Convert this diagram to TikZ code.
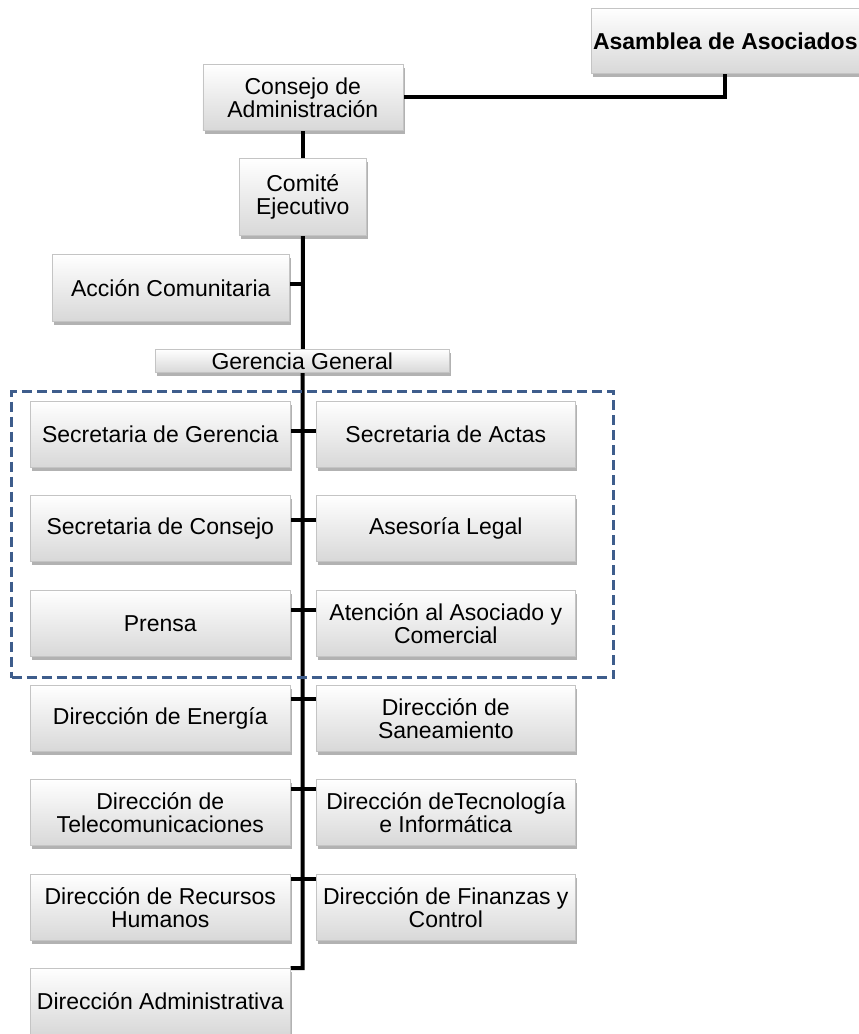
\documentclass[tikz,border=0pt]{standalone}
\usepackage{fontspec}
\setmainfont{Liberation Sans}
\usetikzlibrary{shadows,calc}
\pgfdeclarelayer{background}
\pgfsetlayers{background,main}
\definecolor{dashblue}{HTML}{3E5D8C}
\definecolor{boxedge}{HTML}{C4C4C4}
\definecolor{boxbot}{HTML}{D8D8D8}
\tikzset{
  orgbox/.style={draw=boxedge, line width=0.6pt, top color=white, bottom color=boxbot,
    drop shadow={shadow xshift=2pt, shadow yshift=-4pt, opacity=0.3, fill=black},
    anchor=north west, inner sep=0pt, align=center,
    font=\fontsize{23}{23}\selectfont},
  sz/.style 2 args={minimum width=#1pt, minimum height=#2pt},
  conn/.style={line width=4pt, black},
  grpbox/.style={draw=dashblue, line width=3pt, dash pattern=on 10pt off 5pt,
    anchor=north west, inner sep=0pt}
}
\begin{document}
\begin{tikzpicture}[x=1pt,y=-1pt]
\useasboundingbox (0,0) rectangle (859,1034);
% top boxes
\node[orgbox, sz={268}{65}] (asam) at (591,8) {\bfseries Asamblea de Asociados};
\node[orgbox, sz={200}{66}] (cons) at (202.5,64) {Consejo de\\Administración};
\node[orgbox, sz={127}{77}] (comite) at (239,158) {Comité\\Ejecutivo};
\node[orgbox, sz={237}{67}] (accion) at (52,254) {Acción Comunitaria};
\node[orgbox, sz={294}{23}] (ger) at (155,349) {Gerencia General};
% left column
\node[orgbox, sz={260}{66}] (sg) at (30,401) {Secretaria de Gerencia};
\node[orgbox, sz={260}{66}] (sc) at (30,495) {Secretaria de Consejo};
\node[orgbox, sz={260}{66}] (pr) at (30,590) {Prensa};
\node[orgbox, sz={260}{66}] (de) at (30,685) {Dirección de Energía};
\node[orgbox, sz={260}{66}] (dt) at (30,779) {Dirección de\\Telecomunicaciones};
\node[orgbox, sz={260}{66}] (dr) at (30,874) {Dirección de Recursos\\Humanos};
\node[orgbox, sz={260}{66}] (da) at (30,968) {Dirección Administrativa};
% right column
\node[orgbox, sz={259}{66}] (sa) at (316,401) {Secretaria de Actas};
\node[orgbox, sz={259}{66}] (al) at (316,495) {Asesoría Legal};
\node[orgbox, sz={259}{66}] (at) at (316,590) {Atención al Asociado y\\Comercial};
\node[orgbox, sz={259}{66}] (ds) at (316,685) {Dirección de\\Saneamiento};
\node[orgbox, sz={259}{66}] (dti) at (316,779) {Dirección deTecnología\\e Informática};
\node[orgbox, sz={259}{66}] (df) at (316,874) {Dirección de Finanzas y\\Control};
% dashed group
\node[grpbox, minimum width=602pt, minimum height=286pt] (grp) at (10,390) {};
% connectors
\coordinate (bot) at (302.5,968);
\coordinate (r0) at (302.5,284);
\coordinate (r1) at (302.5,431);
\coordinate (r2) at (302.5,520);
\coordinate (r3) at (302.5,610);
\coordinate (r4) at (302.5,699);
\coordinate (r5) at (302.5,789);
\coordinate (r6) at (302.5,879);
\begin{pgfonlayer}{background}
\draw[conn] (asam.south) |- (cons.east);
\draw[conn] (cons.south) -- (comite.north);
\draw[conn] (comite.south) -- (bot) -- (bot -| da.east);
\draw[conn] (r0 -| accion.east) -- (r0);
\draw[conn] (r1 -| sg.east) -- (r1 -| sa.west);
\draw[conn] (r2 -| sc.east) -- (r2 -| al.west);
\draw[conn] (r3 -| pr.east) -- (r3 -| at.west);
\draw[conn] (r4 -| de.east) -- (r4 -| ds.west);
\draw[conn] (r5 -| dt.east) -- (r5 -| dti.west);
\draw[conn] (r6 -| dr.east) -- (r6 -| df.west);
\end{pgfonlayer}
\end{tikzpicture}
\end{document}
